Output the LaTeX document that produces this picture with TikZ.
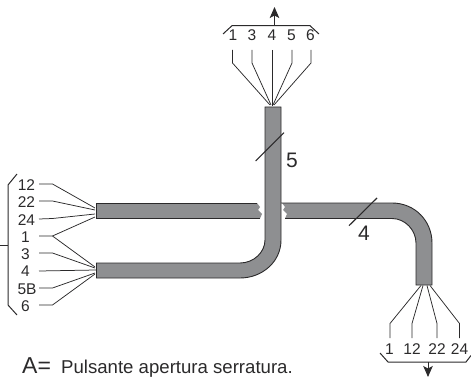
\documentclass[tikz,border=0pt]{standalone}
\usepackage{fontspec}
\setmainfont{Liberation Sans}
\usetikzlibrary{arrows.meta}
\definecolor{cablegray}{HTML}{8E8F91}
\definecolor{ink}{HTML}{2B2A2B}
\tikzset{
  x=1pt,y=-1pt,
  wire/.style={draw=ink,line width=0.75pt,line join=miter},
  bracket/.style={draw=ink,line width=1pt},
  cablefill/.style={fill=cablegray,draw=none},
  edge line/.style={draw=ink,line width=0.9pt},
  lab/.style={inner sep=0pt,text=ink,font=\fontsize{15.5}{16}\selectfont},
  biglab/.style={inner sep=0pt,text=ink,font=\fontsize{21}{22}\selectfont},
  out arrow/.style={draw=ink,line width=1pt,-{Stealth[length=11pt,width=9.5pt,inset=2.5pt]}},
  slash/.style={draw=ink,line width=1.1pt}
}
\begin{document}
\begin{tikzpicture}
\useasboundingbox (0,0) rectangle (471,377);
% lower-left cable into the vertical riser
\fill[cablefill] (96.5,263) -- (240,263) .. controls (254,263) and (265,252) .. (265,240) -- (265,107) -- (281,107) -- (281,240) .. controls (281,262) and (262,278) .. (240,278) -- (96.5,278) -- cycle;
% upper horizontal cable, left part
\fill[cablefill] (96.5,203) -- (257,203) -- (260,207) -- (258,210) -- (262,214) -- (260,218.5) -- (96.5,218.5) -- cycle;
% upper horizontal cable, right part with bend
\fill[cablefill] (282,203) -- (392,203) .. controls (415,203) and (432,221) .. (432,243) -- (432,285) -- (416,285) -- (416,243) .. controls (416,230) and (405,218.5) .. (392,218.5) -- (285,218.5) -- (287,214) -- (283,210) -- (285,207) -- cycle;
% outlines
\draw[edge line] (96.5,203) -- (257,203);
\draw[edge line] (96.5,218.5) -- (260,218.5);
\draw[edge line] (281,203) -- (392,203) .. controls (415,203) and (432,221) .. (432,243) -- (432,285) -- (416,285) -- (416,243) .. controls (416,230) and (405,218.5) .. (392,218.5) -- (285,218.5);
\draw[edge line] (96.5,203) -- (96.5,218.5);
\draw[edge line] (96.5,263) -- (240,263) .. controls (254,263) and (265,252) .. (265,240) -- (265,107) -- (281,107) -- (281,240) .. controls (281,262) and (262,278) .. (240,278) -- (96.5,278) -- cycle;
% cable ends
\coordinate (topend) at (272,106);
\coordinate (lowL) at (96,270);
% top group
\node[lab] (t1) at (233,35.5) {1};
\node[lab] (t3) at (252,35.5) {3};
\node[lab] (t4) at (272,35.5) {4};
\node[lab] (t5) at (291.5,35.5) {5};
\node[lab] (t6) at (310.5,35.5) {6};
\draw[wire] (232.5,50) -- (232.5,63) -- (270,105);
\draw[wire] (252,50) -- (252,63) -- (271,105);
\draw[wire] (272,50) -- (topend);
\draw[wire] (292,50) -- (292,63) -- (273,105);
\draw[wire] (311,50) -- (311,63) -- (274,105);
\coordinate (tb) at (274.5,25.7);
\coordinate (ta) at (274.5,7);
\draw[bracket] (223,34) -- (232,25.7) -- (tb) -- (310,25.7) -- (319,34);
\draw[out arrow] (tb) -- (ta);
% left group
\node[lab] (l12) at (26.5,185) {12};
\node[lab] (l22) at (26.5,202.5) {22};
\node[lab] (l24) at (26.5,220) {24};
\node[lab] (l1) at (25.5,237) {1};
\node[lab] (l3) at (25.5,254.5) {3};
\node[lab] (l4) at (25.5,271.5) {4};
\node[lab] (l5B) at (27,289.5) {5B};
\node[lab] (l6) at (25.5,306.5) {6};
\draw[wire] (39,184) -- (52.5,184) -- (95,208);
\draw[wire] (39,201) -- (52.5,201) -- (95,210);
\draw[wire] (39,219) -- (52.5,218.5) -- (95,214);
\draw[wire] (39,236) -- (52.5,236) -- (95,217);
\draw[wire] (52.5,236) -- (95,267);
\draw[wire] (39,253) -- (52.5,253) -- (95,268);
\draw[wire] (39,271) -- (lowL);
\draw[wire] (39,288) -- (52.5,288) -- (95,273);
\draw[wire] (39,305) -- (52.5,305) -- (95,274);
\draw[bracket] (17,174) -- (8,185) -- (8,305) -- (17,315);
\draw[bracket] (0,245) -- (8,245);
% bottom group
\node[lab] (b1) at (389.5,349) {1};
\node[lab] (b12) at (412,349) {12};
\node[lab] (b22) at (437,349) {22};
\node[lab] (b24) at (459.5,349) {24};
\draw[wire] (390,338) -- (390,323.5) -- (421,285.5);
\draw[wire] (412,338) -- (412,323.5) -- (423,285.5);
\draw[wire] (437,338) -- (437,323.5) -- (427,285.5);
\draw[wire] (459.5,338) -- (459.5,323.5) -- (430,285.5);
\coordinate (bb) at (428,362);
\coordinate (ba) at (428,377);
\draw[bracket] (380,353) -- (388,362) -- (bb) -- (466,362) -- (471,355.5);
\draw[out arrow] (bb) -- (ba);
% count marks
\draw[slash] (255.7,161) -- (284,132.7);
\node[biglab] (n5) at (292,160) {5};
\draw[slash] (349,225.7) -- (377,198);
\node[biglab] (n4) at (364,233) {4};
% caption
\node[inner sep=0pt,text=ink,anchor=base west,font=\fontsize{23}{24}\selectfont] (capA) at (22,373) {A=};
\node[inner sep=0pt,text=ink,anchor=base west,font=\fontsize{18.6}{19}\selectfont] (capT) at (61,373) {Pulsante apertura serratura.};
\end{tikzpicture}
\end{document}
